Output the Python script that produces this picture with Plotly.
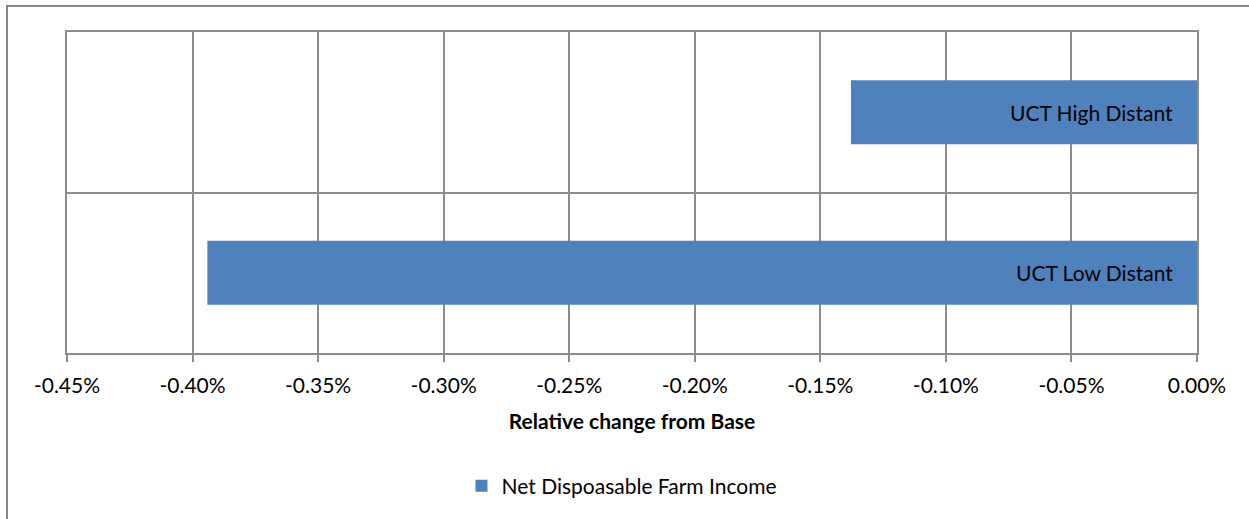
import plotly.graph_objects as go

# Relative change of net disposable farm income from the base scenario
scenarios = ["UCT Low Distant", "UCT High Distant"]
relative_change = [-0.003941, -0.001378]
series_name = "Net Dispoasable Farm Income"
tick_values = [-0.0045, -0.0040, -0.0035, -0.0030, -0.0025, -0.0020, -0.0015, -0.0010, -0.0005, 0.0]
tick_labels = ["-0.45%", "-0.40%", "-0.35%", "-0.30%", "-0.25%", "-0.20%", "-0.15%", "-0.10%", "-0.05%", "0.00%"]

W, H = 1249, 519
L, R, T, B = 67, 52, 32, 166
pw, ph = W - L - R, H - T - B

font_family = "Lato, 'Open Sans', sans-serif"
grid_col = "#8c8c8c"
fs = 21

fig = go.Figure()
fig.add_trace(go.Bar(
    y=scenarios,
    x=relative_change,
    orientation="h",
    name=series_name,
    marker=dict(color="#4F81BD", line=dict(width=0)),
    hoverinfo="x+y",
))

# category labels written inside each bar, right-aligned near the bar base
for name in scenarios:
    fig.add_annotation(
        x=0, y=name, xref="x", yref="y",
        text=name, showarrow=False,
        xanchor="right", yanchor="middle", xshift=-22,
        font=dict(color="#000000", size=fs, family=font_family),
    )

fig.update_layout(
    width=W, height=H,
    margin=dict(l=L, r=R, t=T, b=B, pad=0),
    paper_bgcolor="white",
    plot_bgcolor="white",
    bargap=0.6,
    showlegend=True,
    legend=dict(
        orientation="h",
        x=0.5 - 10 / pw, xanchor="center",
        y=(353 - 486) / ph, yanchor="middle",
        font=dict(size=fs, family=font_family, color="#000000"),
        itemwidth=30,
    ),
    xaxis=dict(
        range=[-0.0045, 0.0],
        tickvals=tick_values,
        ticktext=tick_labels,
        showgrid=True,
        gridcolor=grid_col,
        gridwidth=1.5,
        zeroline=False,
        showline=True,
        mirror=True,
        linecolor=grid_col,
        linewidth=1.5,
        ticks="outside",
        ticklen=7,
        tickwidth=1.5,
        tickcolor=grid_col,
        ticklabelstandoff=6,
        tickfont=dict(size=fs, family=font_family, color="#000000"),
        title=dict(
            text="<b>Relative change from Base</b>",
            font=dict(size=21, family=font_family, color="#000000"),
            standoff=18,
        ),
    ),
    yaxis=dict(
        type="category",
        categoryorder="array",
        categoryarray=scenarios,
        range=[-0.5, 1.5],
        tickson="boundaries",
        showgrid=True,
        gridcolor=grid_col,
        gridwidth=1.5,
        showticklabels=False,
        ticks="",
        showline=True,
        mirror=True,
        linecolor=grid_col,
        linewidth=1.5,
        zeroline=False,
    ),
)

# outer chart frame
fig.add_shape(
    type="rect", xref="paper", yref="paper",
    x0=(7 - L) / pw, x1=(W + 5 - L) / pw,
    y0=(H - B - (H + 5)) / ph, y1=1 + (T - 6) / ph,
    line=dict(color="#878787", width=2),
    layer="below",
)

fig.write_html("out.html")
